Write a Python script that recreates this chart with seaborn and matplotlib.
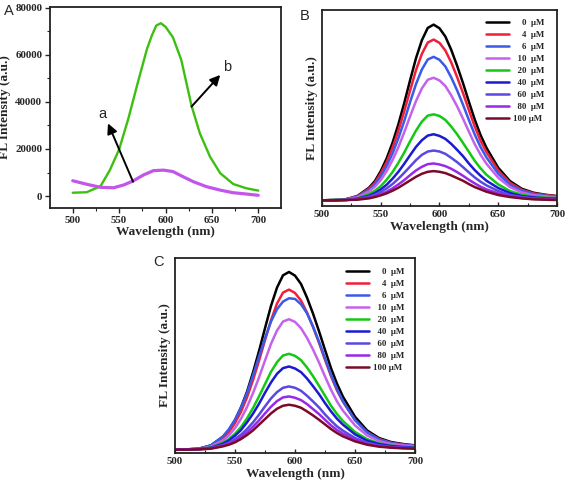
import numpy as np
import pandas as pd
import matplotlib
matplotlib.use("Agg")
import matplotlib.pyplot as plt
import seaborn as sns

# ---------------- data ----------------
# Panel A
A_WL_b = [500, 515, 530, 540, 550, 560, 570, 580, 585, 590, 595, 600, 608, 617, 628, 637, 648, 659, 673, 687, 700]
A_b = [1400, 1600, 4200, 11000, 19800, 33000, 48000, 62500, 68000, 72500, 73500, 72000, 67500, 57900, 38500, 26700, 16700, 9700, 5100, 3300, 2300]
A_WL_a = [500, 515, 530, 544, 555, 565, 576, 587, 598, 608, 619, 630, 644, 659, 673, 687, 700]
A_a = [6500, 5000, 3700, 3500, 4700, 6400, 8900, 10800, 11000, 10400, 8200, 6100, 4000, 2500, 1400, 850, 300]
A_arrow_a = [(565, 6100), (538, 30900)]
A_arrow_b = [(628, 38000), (659, 51500)]
A_label_a = (532, 34900)
A_label_b = (666, 54700)

# Panels B & C
WL = [500, 510, 520, 530, 540, 545, 550, 555, 560, 565, 570, 575, 580, 585, 590, 595,
      600, 605, 610, 615, 620, 625, 630, 635, 640, 650, 660, 670, 680, 690, 700]
conc_labels = ["0", "4", "6", "10", "20", "40", "60", "80", "100"]

B_0 = [17, 18, 20, 30, 55, 75, 105, 143, 190, 246, 310, 379, 445, 499, 536, 546, 535, 510, 470, 422, 370, 314, 260, 213, 175, 115, 75, 52, 40, 34, 30]
B_4 = [17, 18, 20, 29, 52, 70, 98, 132, 175, 227, 285, 348, 409, 458, 492, 501, 491, 468, 432, 388, 340, 289, 239, 196, 162, 107, 70, 49, 38, 33, 29]
B_6 = [17, 18, 20, 28, 48, 65, 89, 120, 158, 204, 256, 313, 367, 411, 441, 449, 440, 420, 387, 348, 305, 259, 215, 177, 146, 97, 64, 46, 36, 31, 28]
B_10 = [17, 18, 19, 26, 44, 58, 78, 105, 138, 177, 222, 270, 316, 354, 380, 386, 378, 361, 333, 300, 263, 224, 186, 154, 127, 85, 57, 41, 33, 29, 26]
B_20 = [17, 18, 19, 23, 36, 46, 60, 79, 102, 130, 161, 195, 227, 254, 272, 276, 271, 259, 239, 216, 190, 163, 136, 113, 94, 65, 45, 34, 28, 25, 24]
B_40 = [17, 17, 18, 22, 31, 39, 50, 64, 82, 103, 127, 153, 178, 198, 212, 216, 211, 202, 187, 169, 150, 128, 108, 91, 76, 54, 39, 30, 26, 23, 22]
B_60 = [17, 17, 18, 21, 28, 34, 42, 53, 66, 82, 100, 119, 138, 154, 164, 167, 164, 157, 145, 132, 117, 101, 86, 73, 62, 45, 33, 27, 23, 21, 20]
B_80 = [17, 17, 18, 20, 25, 29, 35, 43, 53, 65, 78, 93, 107, 118, 126, 128, 125, 120, 112, 102, 91, 79, 68, 58, 50, 38, 29, 24, 22, 20, 19]
B_100 = [17, 17, 18, 19, 23, 27, 32, 38, 46, 55, 66, 77, 88, 97, 103, 105, 103, 99, 92, 84, 76, 66, 57, 50, 43, 33, 27, 23, 20, 19, 18]

C_0 = [10, 11, 13, 23, 49, 69, 99, 137, 184, 242, 306, 375, 442, 497, 534, 544, 533, 508, 467, 419, 366, 310, 255, 208, 169, 109, 68, 45, 33, 27, 23]
C_4 = [10, 11, 13, 22, 45, 63, 90, 124, 167, 219, 277, 339, 399, 449, 482, 491, 481, 458, 422, 379, 331, 280, 231, 188, 154, 99, 63, 42, 31, 25, 22]
C_6 = [10, 11, 13, 23, 50, 72, 100, 137, 180, 233, 290, 345, 395, 432, 455, 465, 463, 447, 420, 380, 335, 285, 235, 192, 155, 99, 62, 41, 30, 25, 21]
C_10 = [10, 11, 12, 20, 38, 53, 75, 103, 138, 180, 227, 278, 328, 368, 395, 402, 394, 375, 346, 311, 272, 230, 190, 155, 127, 83, 53, 36, 27, 23, 20]
C_20 = [10, 11, 12, 17, 31, 42, 58, 78, 104, 135, 170, 207, 244, 273, 293, 298, 292, 279, 257, 231, 202, 172, 142, 117, 96, 63, 42, 29, 22, 19, 17]
C_40 = [10, 10, 12, 16, 28, 38, 52, 69, 92, 118, 148, 181, 212, 238, 255, 260, 254, 243, 224, 201, 177, 150, 125, 103, 85, 56, 37, 27, 21, 18, 16]
C_60 = [10, 10, 11, 15, 24, 31, 42, 55, 72, 92, 115, 140, 164, 183, 196, 200, 196, 187, 172, 155, 137, 116, 97, 80, 67, 45, 31, 23, 18, 16, 15]
C_80 = [10, 10, 11, 14, 22, 28, 37, 48, 62, 79, 98, 119, 139, 156, 167, 170, 166, 159, 147, 132, 117, 100, 83, 69, 58, 40, 27, 21, 17, 15, 14]
C_100 = [10, 10, 11, 13, 20, 25, 32, 42, 54, 68, 85, 102, 119, 133, 142, 145, 142, 136, 125, 113, 100, 86, 72, 60, 50, 35, 25, 19, 16, 14, 13]

B_series = [B_0, B_4, B_6, B_10, B_20, B_40, B_60, B_80, B_100]
C_series = [C_0, C_4, C_6, C_10, C_20, C_40, C_60, C_80, C_100]

colors = ["#000000", "#f0203a", "#3a5ae8", "#c462ec", "#14c814",
          "#1a1ad2", "#5a48e0", "#9a28e8", "#7a0a28"]

# ---------------- style ----------------
sns.set_style("ticks")
plt.rcParams["font.family"] = ["Liberation Serif", "DejaVu Serif"]
plt.rcParams["axes.linewidth"] = 1.3
plt.rcParams["axes.edgecolor"] = "#222222"
plt.rcParams["lines.solid_joinstyle"] = "round"

fig = plt.figure(figsize=(5.67, 4.88), dpi=100)
W, H = 567.0, 488.0

def add_axes(l, r, t, b):
    return fig.add_axes([l / W, 1 - b / H, (r - l) / W, (b - t) / H])

label_font = dict(fontsize=9.6, fontweight="bold")
sans = ["Liberation Sans", "DejaVu Sans"]

# ---------------- Panel A ----------------
axA = add_axes(50, 281, 7, 208)
sns.lineplot(x=A_WL_b, y=A_b, ax=axA, color="#3cbf10", lw=1.7, sort=False)
sns.lineplot(x=A_WL_a, y=A_a, ax=axA, color="#c455ea", lw=2.3, sort=False)
axA.set_xlim(475.5, 724.5)
axA.set_ylim(-5100, 80400)
axA.set_xticks([500, 550, 600, 650, 700])
axA.set_yticks([0, 20000, 40000, 60000, 80000])
axA.set_xticks([525, 575, 625, 675], minor=True)
axA.set_yticks([10000, 30000, 50000, 70000], minor=True)
axA.tick_params(which="major", direction="out", length=3.5, width=1.0, pad=2)
axA.tick_params(which="minor", direction="out", length=2, width=0.8)
for lab in axA.get_xticklabels() + axA.get_yticklabels():
    lab.set_fontsize(7.8); lab.set_fontweight("bold")
axA.set_xlabel("Wavelength (nm)", labelpad=1, **label_font)
axA.set_ylabel("FL Intensity (a.u.)", labelpad=3, **label_font)
for (tail, head) in [A_arrow_a, A_arrow_b]:
    axA.annotate("", xy=head, xytext=tail,
                 arrowprops=dict(arrowstyle="-|>,head_length=0.6,head_width=0.3",
                                 color="black", lw=1.4, shrinkA=0, shrinkB=0))
axA.text(*A_label_a, "a", ha="center", va="center", fontsize=10.5, family=sans)
axA.text(*A_label_b, "b", ha="center", va="center", fontsize=10.5, family=sans)
fig.text(9 / W, 1 - 11 / H, "A", ha="center", va="center", fontsize=10.5, family=sans)


def spectra_panel(ax, series, ymax, legend_anchor):
    rows = []
    for lab, ys in zip(conc_labels, series):
        for x, y in zip(WL, ys):
            rows.append((x, y, lab))
    df = pd.DataFrame(rows, columns=["wl", "val", "conc"])
    sns.lineplot(data=df, x="wl", y="val", hue="conc", hue_order=conc_labels,
                 palette=colors, lw=1.8, ax=ax, legend=False)
    ax.set_xlim(500, 700)
    ax.set_ylim(0, ymax)
    ax.set_yticks([])
    ax.set_xticks([500, 550, 600, 650, 700])
    ax.set_xticks([525, 575, 625, 675], minor=True)
    ax.tick_params(which="major", direction="in", length=3, width=1.0, pad=3)
    ax.tick_params(which="minor", direction="in", length=2, width=0.8)
    for lab in ax.get_xticklabels():
        lab.set_fontsize(7.8); lab.set_fontweight("bold")
    ax.set_xlabel("Wavelength (nm)", labelpad=1, **label_font)
    ax.set_ylabel("FL Intensity (a.u.)", labelpad=3, **label_font)
    names = []
    for c in conc_labels:
        pad = " " * (2 * (3 - len(c)))
        sep = "  " if len(c) < 3 else " "
        names.append(pad + c + sep + "μM")
    leg = ax.legend(ax.get_lines()[:9], names, loc="upper right",
                    bbox_to_anchor=legend_anchor, frameon=False,
                    prop=dict(family=["Liberation Serif", "DejaVu Serif"],
                              weight="bold", size=6.4),
                    handlelength=2.6, handletextpad=0.4, labelspacing=0.42,
                    borderaxespad=0, borderpad=0)
    for h in leg.legend_handles:
        h.set_linewidth(1.8)


axB = add_axes(322, 557, 10, 206)
spectra_panel(axB, B_series, 590, ((544 - 322) / 235, 1 - (19 - 10) / 196))
fig.text(305 / W, 1 - 16 / H, "B", ha="center", va="center", fontsize=10.5, family=sans)

axC = add_axes(175, 415, 258, 453)
spectra_panel(axC, C_series, 586, ((404 - 175) / 240, 1 - (268 - 258) / 195))
fig.text(158 / W, 1 - 262 / H, "C", ha="center", va="center", fontsize=10.5, family=sans)

fig.savefig("out.png", dpi=100)
